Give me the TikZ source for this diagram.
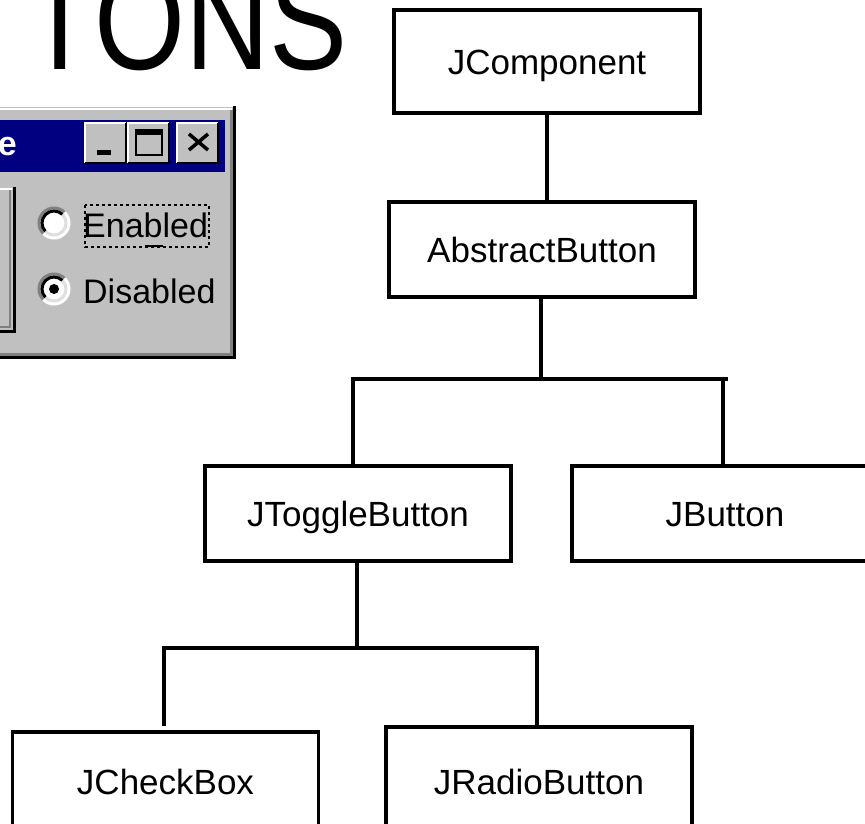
\documentclass[tikz,border=0pt]{standalone}
\usepackage{xcolor}
\usepackage{fontspec}
\setmainfont{Liberation Sans}
\usetikzlibrary{positioning}

\definecolor{WinGray}{HTML}{C0C0C0}
\definecolor{WinNavy}{HTML}{000080}
\definecolor{WinShadow}{HTML}{808080}
\definecolor{WinLight}{HTML}{DFDFDF}

\begin{document}
\begin{tikzpicture}[x=1pt, y=-1pt]
\tikzset{ClassStyle/.style = {draw, line width=3.2pt, minimum width=306pt, minimum height=95pt, inner sep=0pt, outer sep=0pt, text height=25pt, text depth=0pt, font=\fontsize{35}{40}\selectfont}}
\tikzset{LinkStyle/.style = {line width=3.2pt}}
\tikzset{TitleBtnStyle/.style = {fill=WinGray, minimum width=41pt, minimum height=40pt, inner sep=0pt, outer sep=0pt}}
\tikzset{RadioStyle/.style = {circle, fill=white, minimum size=30pt, inner sep=0pt, outer sep=0pt}}
\tikzset{GuiText/.style = {inner sep=0pt, font=\fontsize{34}{38}\selectfont}}
	\useasboundingbox (0,0) rectangle (865,823);
	\clip (0,0) rectangle (865,823);

	\node[anchor=base east, inner sep=0pt, font=\fontsize{117}{120}\selectfont] (Heading) at (348,69) {\scalebox{1}[1.2]{TONS}};

	% window
	\fill[WinGray] (-5,107) rectangle (236,359);
	\draw[white, line width=2pt] (-5,109) -- (232,109);
	\draw[WinShadow, line width=3pt] (231,110) -- (231,354.5) -- (-5,354.5);
	\draw[black, line width=3pt] (234.5,106) -- (234.5,357.5) -- (-5,357.5);
	\fill[WinNavy] (-5,120) rectangle (225,172);
	\node[anchor=base east, inner sep=0pt, text=white, font=\bfseries\fontsize{34}{36}\selectfont] (Caption) at (17,155) {e};

	\node[TitleBtnStyle] (BtnMin) at (105.5,143) {};
	\node[TitleBtnStyle] (BtnMax) at (148,143) {};
	\node[TitleBtnStyle] (BtnClose) at (197.5,143) {};
	\foreach \b in {BtnMin, BtnMax, BtnClose} {
		\draw[white, line width=2pt] (\b.south west) -- (\b.north west) -- (\b.north east);
		\draw[black, line width=2pt] (\b.north east) -- (\b.south east) -- (\b.south west);
	}
	\fill (97,150) rectangle (111,155);
	\draw[line width=2.5pt] (136,131) rectangle (162,155);
	\fill (135,129) rectangle (163,135);
	\draw[line width=3.5pt] (189,134) -- (208,150) (208,134) -- (189,150);

	\draw[white, line width=2pt] (-5,189) -- (12,189);
	\draw[WinShadow, line width=2pt] (10,190) -- (10,327) -- (-5,327);
	\draw[black, line width=3pt] (14,187) -- (14,331) -- (-5,331);

	\node[RadioStyle] (RadioEnabled) at (54,223) {};
	\node[RadioStyle] (RadioDisabled) at (54,289) {};
	\foreach \r in {RadioEnabled, RadioDisabled} {
		\draw[WinShadow, line width=3pt] (\r.45) arc[start angle=45, end angle=225, radius=15pt];
		\draw[black, line width=3pt] ([shift={(45:-3pt)}]\r.45) arc[start angle=45, end angle=225, radius=12pt];
		\draw[white, line width=3pt] (\r.225) arc[start angle=225, end angle=405, radius=15pt];
		\draw[WinLight, line width=3pt] ([shift={(225:-3pt)}]\r.225) arc[start angle=225, end angle=405, radius=12pt];
	}
	\fill (RadioDisabled) circle[radius=5pt];

	\node[GuiText, anchor=base west] (LblEnabled) at (83,237) {Enabled};
	\node[GuiText, anchor=base west] (LblDisabled) at (83,303) {Disabled};
	\draw[line width=1.5pt, dash pattern=on 3pt off 3pt] (85,205) rectangle (209,247);
	\draw[line width=2pt] (145,246) -- (163,246);

	% class tree
	\node[ClassStyle, minimum height=103pt] (JComponent) at (547,61.5) {JComponent};
	\node[ClassStyle] (AbstractButton) at (542,249.5) {AbstractButton};
	\node[ClassStyle] (JToggleButton) at (358,513.5) {JToggleButton};
	\node[ClassStyle] (JButton) at (725,513.5) {JButton};
	\node[ClassStyle, minimum height=100pt] (JCheckBox) at (165.5,782) {JCheckBox};
	\node[ClassStyle, minimum height=110pt] (JRadioButton) at (539,782) {JRadioButton};

	\coordinate (SplitTop) at (541,379);
	\coordinate (BarTopL) at (353,379);
	\coordinate (BarTopR) at (728,379);
	\coordinate (DropJButton) at (723,379);
	\coordinate (SplitLow) at (357,648);
	\coordinate (BarLowL) at (164,648);
	\coordinate (BarLowR) at (537,648);

	\draw[LinkStyle] (JComponent.south) -- (JComponent.south |- AbstractButton.north);
	\draw[LinkStyle] (AbstractButton.south -| SplitTop) -- (SplitTop);
	\draw[LinkStyle] (BarTopL |- JToggleButton.north) -- (BarTopL) -- (BarTopR);
	\draw[LinkStyle] (DropJButton) -- (DropJButton |- JButton.north);
	\draw[LinkStyle] (JToggleButton.south -| SplitLow) -- (SplitLow);
	\draw[LinkStyle] ([yshift=6pt]BarLowL |- JCheckBox.north) -- (BarLowL) -- (BarLowR) -- (BarLowR |- JRadioButton.north);

\end{tikzpicture}
\end{document}
